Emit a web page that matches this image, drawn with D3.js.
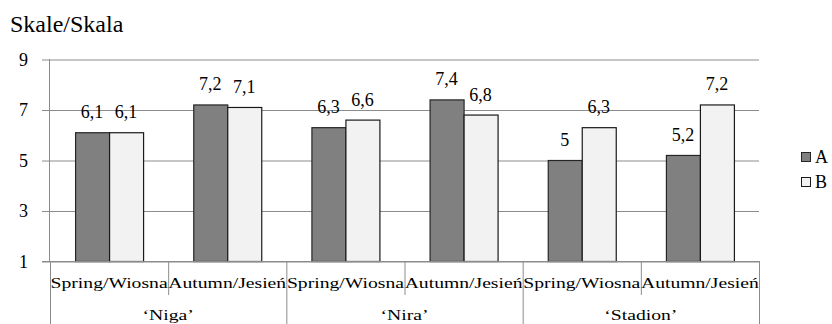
<!DOCTYPE html>
<html>
<head>
<meta charset="utf-8">
<script src="https://cdn.jsdelivr.net/npm/d3@7"></script>
<style>
  body { margin: 0; background: #fff; }
  svg { display: block; }
</style>
</head>
<body>
<svg id="chart" width="832" height="324" font-family="Liberation Serif"></svg>
<script>
const seasons = ["Spring/Wiosna", "Autumn/Jesień", "Spring/Wiosna", "Autumn/Jesień", "Spring/Wiosna", "Autumn/Jesień"];
const groups = ["‘Niga’", "‘Nira’", "‘Stadion’"];
const seriesNames = ["A", "B"];
const valuesA = [6.1, 7.2, 6.3, 7.4, 5.0, 5.2];
const valuesB = [6.1, 7.1, 6.6, 6.8, 6.3, 7.2];
const yTicks = [1, 3, 5, 7, 9];
const title = "Skale/Skala";

(function () {
const FONT = "Liberation Serif";
const colors = { A: "#808080", B: "#f2f2f2" };
const strokes = { A: "#262626", B: "#1a1a1a" };
const gridColor = "#8c8c8c";

const svg = d3.select("#chart");
const pLeft = 50, pRight = 759, pTop = 59, pBottom = 261;

const cats = d3.range(seasons.length);
const x = d3.scaleBand().domain(cats).range([pLeft, pRight]).padding(0);
const y = d3.scaleLinear().domain([1, 9]).range([pBottom, pTop]);
const barW = 34;

function txt(sel) {
  return sel.append("text").style("font-family", FONT).attr("font-family", FONT).style("fill", "#000");
}

// title
txt(svg).attr("x", 10).attr("y", 32).style("font-size", "24px").text(title);

// gridlines + ticks
const yAxis = d3.axisLeft(y).tickValues(yTicks).tickSize(0).tickFormat(d3.format("d"));
const gy = svg.append("g").attr("transform", `translate(${pLeft - 8},0)`).call(yAxis)
  .attr("font-family", FONT).attr("font-size", 18);
gy.select(".domain").remove();
gy.selectAll(".tick line").attr("stroke", gridColor).attr("y1", 0.5).attr("y2", 0.5).attr("x1", 0).attr("x2", pRight - pLeft + 8);
gy.selectAll(".tick text").style("font-family", FONT).style("font-size", "18px").attr("fill", "#000").attr("x", -14).attr("dy", "0.36em");

// vertical axis line
svg.append("line").attr("x1", pLeft - 0.5).attr("x2", pLeft - 0.5).attr("y1", pTop).attr("y2", pBottom).attr("stroke", gridColor);

// bars
const data = cats.map(i => ({ i, A: valuesA[i], B: valuesB[i] }));
seriesNames.forEach((s, si) => {
  const g = svg.append("g");
  g.selectAll("rect").data(data).join("rect")
    .attr("x", d => x(d.i) + x.bandwidth() / 2 - barW + si * barW + 0.5)
    .attr("y", d => y(d[s]) + 0.5)
    .attr("width", barW)
    .attr("height", d => y(1) - y(d[s]))
    .attr("fill", colors[s])
    .attr("stroke", strokes[s])
    .attr("stroke-width", 1.2);
  g.selectAll("text").data(data).join("text")
    .style("font-family", FONT)
    .attr("x", d => x(d.i) + x.bandwidth() / 2 - barW / 2 + si * barW)
    .attr("y", d => y(d[s]) - 14)
    .attr("text-anchor", "middle")
    .style("font-size", "18px")
    .text(d => String(d[s]).replace(".", ","));
});

// category axis line
svg.append("line").attr("x1", pLeft - 8).attr("x2", pRight).attr("y1", pBottom + 0.5).attr("y2", pBottom + 0.5).attr("stroke", gridColor);

// separators
cats.forEach(i => {
  if (i % 2 === 1) {
    svg.append("line").attr("x1", x(i) + 0.5).attr("x2", x(i) + 0.5).attr("y1", pBottom).attr("y2", 295).attr("stroke", gridColor);
  }
});
d3.range(groups.length + 1).forEach(gi => {
  const xx = gi < groups.length ? x(gi * 2) : pRight;
  svg.append("line").attr("x1", xx + 0.5).attr("x2", xx + 0.5).attr("y1", pBottom).attr("y2", 324).attr("stroke", gridColor);
});

// category labels (horizontally stretched like the original)
const sx = 1.31;
cats.forEach(i => {
  txt(svg)
    .attr("transform", `translate(${x(i) + x.bandwidth() / 2},288) scale(${sx},1)`)
    .attr("text-anchor", "middle").style("font-size", "15px").text(seasons[i]);
});
groups.forEach((gname, gi) => {
  txt(svg)
    .attr("transform", `translate(${x(gi * 2) + x.bandwidth()},320) scale(${sx},1)`)
    .attr("text-anchor", "middle").style("font-size", "15px").text(gname);
});

// legend
seriesNames.forEach((s, si) => {
  const ly = 152 + si * 25;
  svg.append("rect").attr("x", 801.5).attr("y", ly + 0.5).attr("width", 9).attr("height", 9)
    .attr("fill", colors[s]).attr("stroke", strokes[s]);
  txt(svg).attr("x", 815).attr("y", ly + 11).style("font-size", "18px").text(s);
});
})();
</script>
</body>
</html>
